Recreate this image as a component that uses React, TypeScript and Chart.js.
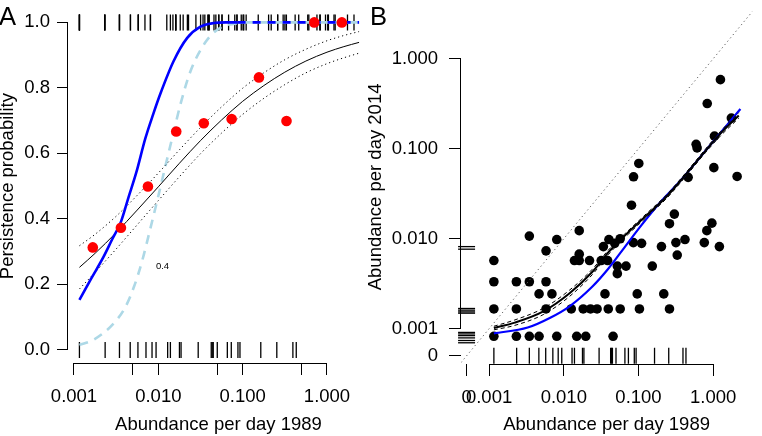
import { useEffect, useRef } from 'react';
import { Chart, registerables } from 'chart.js';

Chart.register(...registerables);

const FONT_FAMILY = "'Liberation Sans', Arial, Helvetica, sans-serif";
const FONT = { family: FONT_FAMILY, size: 18.5 };

// ---------------- Panel A ----------------
const A_X_TICKS = [0.001, 0.005, 0.01, 0.05, 0.1, 0.5, 1];
const A_X_LABELS = ['0.001', '', '0.010', '', '0.100', '', '1.000'];
const A_Y_TICKS = [0, 0.2, 0.4, 0.6, 0.8, 1.0];
const A_Y_LABELS = ['0.0', '0.2', '0.4', '0.6', '0.8', '1.0'];

// binned persistence proportions (red points)
const BIN_ABUNDANCE = [0.00167, 0.0036, 0.00753, 0.0163, 0.0346, 0.074, 0.156, 0.331, 0.706, 1.5];
const BIN_PERSIST = [0.313, 0.373, 0.499, 0.667, 0.692, 0.705, 0.832, 0.699, 1.0, 1.0];

// logistic fit (black) with confidence band (dotted)
const FIT_X = [0.00116, 0.00178, 0.00316, 0.00562, 0.01, 0.0178, 0.0316, 0.0562, 0.1, 0.178, 0.316, 0.562, 1.0, 1.585, 2.4];
const FIT_P = [0.252, 0.295, 0.358, 0.427, 0.498, 0.57, 0.639, 0.702, 0.759, 0.807, 0.848, 0.882, 0.909, 0.926, 0.939];
const FIT_UPPER = [0.318, 0.353, 0.408, 0.472, 0.54, 0.611, 0.679, 0.742, 0.799, 0.846, 0.886, 0.918, 0.944, 0.96, 0.972];
const FIT_LOWER = [0.186, 0.237, 0.308, 0.382, 0.456, 0.529, 0.599, 0.662, 0.719, 0.768, 0.81, 0.846, 0.874, 0.892, 0.906];

// blue curve (solid part, then dashed plateau)
const BLUE_X = [0.00116, 0.00161, 0.00223, 0.00283, 0.0036, 0.00443, 0.00547, 0.007, 0.0087, 0.01057, 0.0152, 0.0219, 0.0316, 0.0455, 0.0631, 0.0871];
const BLUE_P = [0.153, 0.219, 0.283, 0.337, 0.391, 0.466, 0.541, 0.645, 0.72, 0.782, 0.882, 0.952, 0.987, 0.998, 1.0, 1.0];
const BLUE_EXT_X = [0.0871, 2.4];
const BLUE_EXT_P = [1.0, 1.0];

// light blue dashed curve
const LB_X = [0.00116, 0.00168, 0.00281, 0.00405, 0.00518, 0.0064, 0.00803, 0.01, 0.0121, 0.0147, 0.0183, 0.024, 0.0363, 0.0547, 0.0871];
const LB_P = [0.015, 0.03, 0.075, 0.13, 0.195, 0.27, 0.37, 0.47, 0.56, 0.65, 0.75, 0.85, 0.94, 0.984, 0.998];
const LB_EXT_X = [0.0871, 2.4];
const LB_EXT_P = [1.0, 1.0];

const CONTOUR_LABEL = '0.4';
const CONTOUR_AT = [0.0112, 0.256];

// ---------------- Species data ----------------
// species present in both surveys: abundance per day 1989 / 2014
const SPECIES_1989 = [
  1.25, 0.832, 1.75, 1.04, 0.591, 0.609, 0.101, 1.02, 0.0859, 0.462,
  2.09, 0.0806, 0.302, 0.96, 0.26, 0.822, 0.00346, 0.0161, 0.00806, 0.0402,
  0.0569, 0.0339, 0.0481, 0.0853, 0.11, 0.203, 0.317, 0.419, 0.76, 1.21,
  0.00579, 0.33, 0.0161, 0.00116, 0.0139, 0.0161, 0.0221, 0.0317, 0.0386, 0.0521,
  0.0681, 0.153, 0.0521, 0.00116, 0.00232, 0.00346, 0.00579, 0.00467, 0.00694, 0.0356,
  0.0962, 0.218, 0.00116, 0.00232, 0.00579, 0.0126, 0.0182, 0.0228, 0.0279, 0.0394,
  0.0569, 0.103, 0.26, 0.00116, 0.00232, 0.00346, 0.00467, 0.00806, 0.0149, 0.0197,
  0.0457,
];
const SPECIES_2014 = [
  0.586, 0.318, 0.219, 0.138, 0.112, 0.102, 0.0687, 0.0617, 0.0488, 0.0481,
  0.0492, 0.0236, 0.0188, 0.0149, 0.0147, 0.0123, 0.0107, 0.0123, 0.0098, 0.0098,
  0.01, 0.00818, 0.00889, 0.00906, 0.00889, 0.00818, 0.00906, 0.0098, 0.00906, 0.00818,
  0.00734, 0.00658, 0.00675, 0.00573, 0.00573, 0.00573, 0.00573, 0.00573, 0.00573, 0.00497,
  0.00497, 0.00497, 0.00409, 0.00333, 0.00333, 0.00333, 0.00333, 0.00244, 0.00244, 0.00244,
  0.00244, 0.00244, 0.00166, 0.00166, 0.00166, 0.00166, 0.00166, 0.00166, 0.00166, 0.00166,
  0.00166, 0.00166, 0.00166, 0.000825, 0.000825, 0.000825, 0.000825, 0.000825, 0.000825, 0.000825,
  0.000825,
];
// species seen in 1989 but not in 2014
const EXTINCT_1989 = [
  0.00116, 0.00234, 0.00346, 0.00464, 0.00573, 0.00714, 0.00842, 0.0094, 0.0129, 0.0139,
  0.0178, 0.0186, 0.0297, 0.0424, 0.0436, 0.0448, 0.05, 0.0658, 0.0733, 0.0879,
  0.0929, 0.164, 0.254, 0.394, 0.432,
];
// species seen in 2014 but not in 1989
const COLONIST_2014 = [0.00818, 0.00766, 0.00168, 0.00161, 0.00154, 0.00149, 0.000911, 0.000876, 0.000839, 0.000792, 0.000741, 0.000699];

// ---------------- Panel B ----------------
const ZERO_POS = 0.0005; // where an abundance of 0 is shown on the log axes
const B_X_TICKS = [ZERO_POS, 0.001, 0.01, 0.1, 1];
const B_X_LABELS = ['0', '0.001', '0.010', '0.100', '1.000'];
const B_Y_TICKS = [ZERO_POS, 0.001, 0.01, 0.1, 1];
const B_Y_LABELS = ['0', '0.001', '0.010', '0.100', '1.000'];

const BFIT_X = [0.00116, 0.00221, 0.00541, 0.01197, 0.024, 0.0394, 0.0647, 0.1297, 0.235, 0.4266, 0.794, 1.259, 2.198];
const BFIT_Y = [0.00102, 0.00117, 0.00157, 0.00248, 0.00427, 0.00705, 0.0107, 0.01837, 0.0291, 0.0513, 0.0955, 0.148, 0.2344];
const BFIT_UPPER = [0.001067, 0.001253, 0.001702, 0.002692, 0.004571, 0.00746, 0.0112, 0.01923, 0.03048, 0.0537, 0.1, 0.1567, 0.2512];
const BFIT_LOWER = [0.000973, 0.001091, 0.001449, 0.002291, 0.003981, 0.00665, 0.0102, 0.01754, 0.0278, 0.049, 0.0912, 0.1396, 0.2188];

const BBLUE_X = [0.00116, 0.00329, 0.00659, 0.01197, 0.024, 0.0394, 0.0647, 0.1064, 0.1932, 0.3508, 0.7745, 2.312];
const BBLUE_Y = [0.000889, 0.001033, 0.001327, 0.001778, 0.00293, 0.004645, 0.00798, 0.01374, 0.02512, 0.04266, 0.0933, 0.2767];

const DIAG = [0.0003, 4];

// ---------------- helpers ----------------
const pts = (xs: number[], ys: number[]) => xs.map((x, i) => ({ x, y: ys[i] }));

const curve = (data: any[], color: string, width: number, dash: number[] = [], extra: any = {}) => ({
  data,
  showLine: true,
  borderColor: color,
  borderWidth: width,
  borderDash: dash,
  pointRadius: 0,
  pointHoverRadius: 0,
  fill: false,
  cubicInterpolationMode: 'monotone',
  ...extra,
});

const rug = (data: any[], rotation: number, radius: number, extra: any = {}) => ({
  data,
  showLine: false,
  pointStyle: 'line',
  pointRotation: rotation,
  pointRadius: radius,
  pointHoverRadius: radius,
  pointBorderColor: '#000',
  pointBorderWidth: 1.3,
  ...extra,
});

const fixedBox = (size: { width?: number; height?: number }) => (s: any) => {
  if (size.width !== undefined) s.width = size.width;
  if (size.height !== undefined) s.height = size.height;
  s.paddingLeft = 0;
  s.paddingRight = 0;
  s.paddingTop = 0;
  s.paddingBottom = 0;
};

const setTicks = (values: number[]) => (s: any) => {
  s.ticks = values.map((v) => ({ value: v }));
};

const tickGrid = (len: number) => ({
  display: true,
  drawOnChartArea: false,
  drawTicks: true,
  tickLength: len,
  tickColor: '#000',
  color: '#000',
  lineWidth: 1,
});

function axisLines(xRange: number[], yRange: number[]) {
  return {
    id: 'rAxisLines',
    afterDraw(chart: any) {
      const { ctx, chartArea, scales } = chart;
      const xs = scales.x;
      const ys = scales.y;
      ctx.save();
      ctx.strokeStyle = '#000';
      ctx.lineWidth = 1;
      const yb = Math.round(chartArea.bottom) + 0.5;
      const xl = Math.round(chartArea.left) - 0.5;
      ctx.beginPath();
      ctx.moveTo(Math.round(xs.getPixelForValue(xRange[0]) - 0.5), yb);
      ctx.lineTo(Math.round(xs.getPixelForValue(xRange[1]) - 0.5) + 1, yb);
      ctx.moveTo(xl, Math.round(ys.getPixelForValue(yRange[0]) - 0.5) + 1);
      ctx.lineTo(xl, Math.round(ys.getPixelForValue(yRange[1]) - 0.5));
      ctx.stroke();
      ctx.restore();
    },
  };
}

function panelLetter(letter: string, x: number, y: number, extra?: (chart: any) => void) {
  return {
    id: 'panelLetter',
    afterDraw(chart: any) {
      const { ctx } = chart;
      ctx.save();
      ctx.fillStyle = '#000';
      ctx.font = `25.6px ${FONT_FAMILY}`;
      ctx.textAlign = 'left';
      ctx.textBaseline = 'alphabetic';
      ctx.fillText(letter, x, y);
      if (extra) extra(chart);
      ctx.restore();
    },
  };
}

function makeChartA(canvas: HTMLCanvasElement) {
  const datasets: any[] = [
    {
      data: pts(BIN_ABUNDANCE, BIN_PERSIST),
      showLine: false,
      pointRadius: 5.3,
      pointHoverRadius: 5.3,
      pointBackgroundColor: '#FF0000',
      pointBorderWidth: 0,
    },
    curve(pts(BLUE_X, BLUE_P), '#0000FF', 2.6),
    curve(pts(BLUE_EXT_X, BLUE_EXT_P), '#0000FF', 2.6, [8, 7]),
    curve(pts(FIT_X, FIT_P), '#000', 1),
    curve(pts(FIT_X, FIT_UPPER), '#000', 1, [1.2, 3]),
    curve(pts(FIT_X, FIT_LOWER), '#000', 1, [1.2, 3]),
    curve(pts(LB_X, LB_P), '#ADD8E6', 2.6, [9, 7]),
    curve(pts(LB_EXT_X, LB_EXT_P), '#ADD8E6', 2.6),
    rug(SPECIES_1989.map((x) => ({ x, y: 1 })), 90, 8),
    rug(EXTINCT_1989.map((x) => ({ x, y: 0 })), 90, 8),
  ];
  return new Chart(canvas, {
    type: 'scatter',
    data: { datasets },
    options: {
      responsive: false,
      animation: false,
      devicePixelRatio: 1,
      events: [],
      layout: { padding: { left: 0, right: 11, top: 4, bottom: 0 } },
      plugins: { legend: { display: false }, tooltip: { enabled: false } },
      scales: {
        x: {
          type: 'logarithmic',
          position: 'bottom',
          min: 0.000849,
          max: 3.148,
          bounds: 'data',
          afterBuildTicks: setTicks(A_X_TICKS),
          afterFit: fixedBox({ height: 73 }),
          ticks: {
            autoSkip: false,
            maxRotation: 0,
            minRotation: 0,
            padding: 11,
            color: '#000',
            font: FONT,
            callback: (_v: any, i: number) => A_X_LABELS[i],
          },
          grid: tickGrid(12),
          border: { display: false },
          title: {
            display: true,
            text: 'Abundance per day 1989',
            color: '#000',
            font: { ...FONT, lineHeight: 1 },
            padding: { top: 0, bottom: 1.5 },
          },
        },
        y: {
          type: 'linear',
          position: 'left',
          min: -0.04,
          max: 1.04,
          bounds: 'data',
          afterBuildTicks: setTicks(A_Y_TICKS),
          afterFit: fixedBox({ width: 68 }),
          ticks: {
            autoSkip: false,
            padding: 7,
            color: '#000',
            font: FONT,
            callback: (_v: any, i: number) => A_Y_LABELS[i],
          },
          grid: tickGrid(11),
          border: { display: false },
          title: {
            display: true,
            text: 'Persistence probability',
            color: '#000',
            font: { ...FONT, lineHeight: 0.8 },
            padding: { top: 0.2, bottom: 0 },
          },
        },
      },
    } as any,
    plugins: [
      axisLines([A_X_TICKS[0], A_X_TICKS[A_X_TICKS.length - 1]], [A_Y_TICKS[0], A_Y_TICKS[A_Y_TICKS.length - 1]]),
      panelLetter('A', -1, 25, (chart: any) => {
        const { ctx, scales } = chart;
        ctx.font = `9.5px ${FONT_FAMILY}`;
        ctx.textAlign = 'center';
        ctx.textBaseline = 'middle';
        ctx.fillText(CONTOUR_LABEL, scales.x.getPixelForValue(CONTOUR_AT[0]), scales.y.getPixelForValue(CONTOUR_AT[1]));
      }),
    ],
  });
}

function makeChartB(canvas: HTMLCanvasElement) {
  const datasets: any[] = [
    curve(pts(BFIT_X, BFIT_Y), '#000', 2),
    curve(pts(BFIT_X, BFIT_UPPER), '#000', 1, [4, 3]),
    curve(pts(BFIT_X, BFIT_LOWER), '#000', 1, [4, 3]),
    curve(pts(BBLUE_X, BBLUE_Y), '#0000FF', 2.2),
    curve(pts(DIAG, DIAG), '#666', 1, [1.3, 3], { cubicInterpolationMode: 'default', tension: 0 }),
    {
      data: pts(SPECIES_1989, SPECIES_2014),
      showLine: false,
      pointRadius: 4.8,
      pointHoverRadius: 4.8,
      pointBackgroundColor: '#000',
      pointBorderWidth: 0,
    },
    rug(EXTINCT_1989.map((x) => ({ x, y: ZERO_POS })), 90, 8),
    rug(COLONIST_2014.map((y) => ({ x: ZERO_POS, y })), 0, 8.5, { clip: false }),
  ];
  return new Chart(canvas, {
    type: 'scatter',
    data: { datasets },
    options: {
      responsive: false,
      animation: false,
      devicePixelRatio: 1,
      events: [],
      layout: { padding: { left: 0, right: 0, top: 2, bottom: 0 } },
      plugins: { legend: { display: false }, tooltip: { enabled: false } },
      scales: {
        x: {
          type: 'logarithmic',
          position: 'bottom',
          min: 0.0004211,
          max: 3.327,
          bounds: 'data',
          afterBuildTicks: setTicks(B_X_TICKS),
          afterFit: fixedBox({ height: 72 }),
          ticks: {
            autoSkip: false,
            maxRotation: 0,
            minRotation: 0,
            padding: 11,
            color: '#000',
            font: FONT,
            callback: (_v: any, i: number) => B_X_LABELS[i],
          },
          grid: tickGrid(12),
          border: { display: false },
          title: {
            display: true,
            text: 'Abundance per day 1989',
            color: '#000',
            font: { ...FONT, lineHeight: 1 },
            padding: { top: 0, bottom: 1.5 },
          },
        },
        y: {
          type: 'logarithmic',
          position: 'left',
          min: 0.0004061,
          max: 3.497,
          bounds: 'data',
          afterBuildTicks: setTicks(B_Y_TICKS),
          afterFit: fixedBox({ width: 99 }),
          ticks: {
            autoSkip: false,
            padding: 11,
            color: '#000',
            font: FONT,
            callback: (_v: any, i: number) => B_Y_LABELS[i],
          },
          grid: tickGrid(12),
          border: { display: false },
          title: {
            display: true,
            text: 'Abundance per day 2014',
            color: '#000',
            font: { ...FONT, lineHeight: 0.8 },
            padding: { top: 6.2, bottom: 0 },
          },
        },
      },
    } as any,
    plugins: [
      axisLines([B_X_TICKS[1], B_X_TICKS[B_X_TICKS.length - 1]], [B_Y_TICKS[1], B_Y_TICKS[B_Y_TICKS.length - 1]]),
      panelLetter('B', 8, 25),
    ],
  });
}

export default function App() {
  const refA = useRef<HTMLCanvasElement | null>(null);
  const refB = useRef<HTMLCanvasElement | null>(null);

  useEffect(() => {
    if (!refA.current || !refB.current) return;
    const a = makeChartA(refA.current);
    const b = makeChartB(refB.current);
    return () => {
      a.destroy();
      b.destroy();
    };
  }, []);

  return (
    <div style={{ position: 'fixed', left: 0, top: 0, width: 762, height: 436, background: '#fff' }}>
      <canvas ref={refA} width={380} height={436} style={{ position: 'absolute', left: 0, top: 0 }} />
      <canvas ref={refB} width={400} height={436} style={{ position: 'absolute', left: 362, top: 0 }} />
    </div>
  );
}
